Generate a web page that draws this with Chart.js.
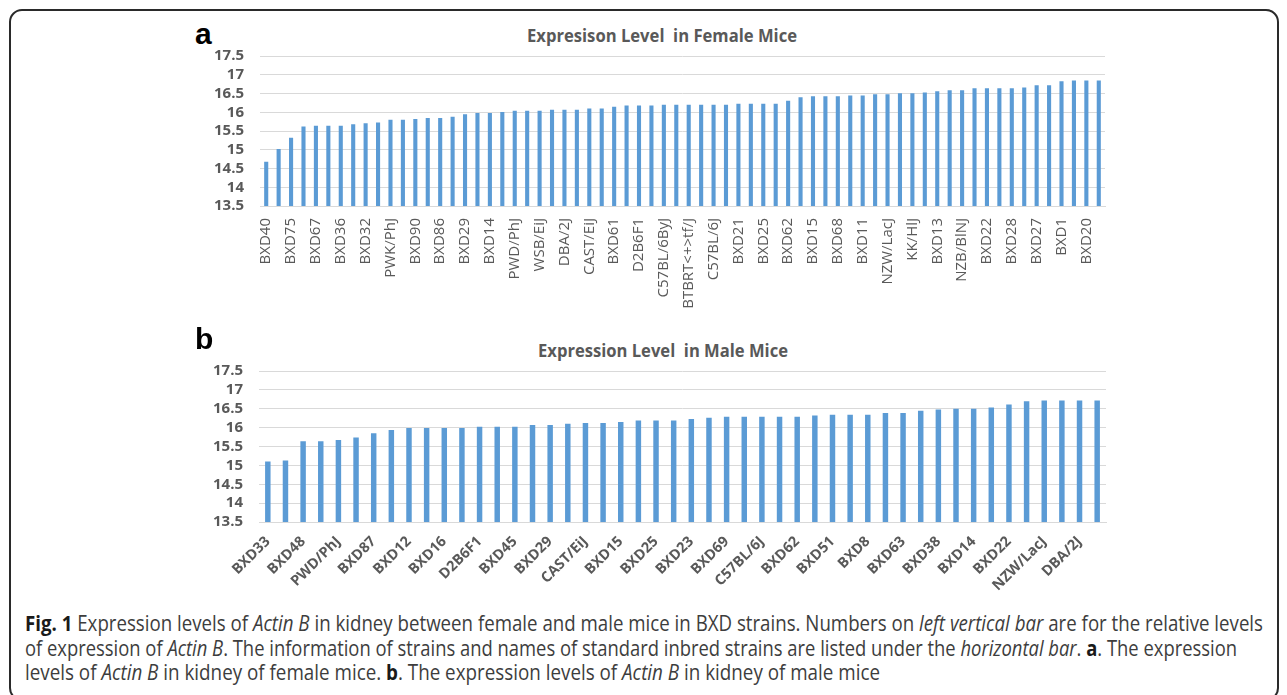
<!DOCTYPE html>
<html>
<head>
<meta charset="utf-8">
<script src="https://cdn.jsdelivr.net/npm/chart.js@4.4.1/dist/chart.umd.min.js"></script>
<style>
  html, body { margin: 0; padding: 0; background: #fff; }
  body { width: 1287px; height: 695px; position: relative; overflow: hidden; font-family: "Open Sans", sans-serif; }
  .frame { position: absolute; left: 9px; top: 9px; width: 1266px; height: 688px; border: 2px solid #2a2a2a; border-radius: 13px; }
  .letter { position: absolute; font: bold 30px "Liberation Sans", Arial, sans-serif; color: #000; line-height: 1; }
  .title { position: absolute; font-weight: bold; color: #595959; white-space: nowrap; line-height: 1; transform-origin: left top; }
  .plot { position: absolute; }
  .cap { position: absolute; left: 25px; font-size: 21px; color: #3d3d3d; white-space: nowrap; line-height: 1; transform-origin: left top; }
  .cap b { color: #1a1a1a; }
</style>
</head>
<body>
<div class="frame"></div>

<div class="letter" style="left:195px; top:19px;">a</div>
<div class="title fit" data-x="527" data-w="270" style="top:27px; font-size:17.5px;">Expresison Level&nbsp; in Female Mice</div>
<canvas class="plot" id="female" width="944" height="305" style="left:190px; top:20px;"></canvas>

<div class="letter" style="left:195px; top:324px;">b</div>
<div class="title fit" data-x="538" data-w="250" style="top:342px; font-size:17px;">Expression Level&nbsp; in Male Mice</div>
<canvas class="plot" id="male" width="944" height="270" style="left:190px; top:330px;"></canvas>

<div class="cap fit" data-x="25" data-w="1238" style="top:613px;"><b>Fig. 1</b> Expression levels of <i>Actin B</i> in kidney between female and male mice in BXD strains. Numbers on <i>left vertical bar</i> are for the relative levels</div>
<div class="cap fit" data-x="25" data-w="1212" style="top:638px;">of expression of <i>Actin B</i>. The information of strains and names of standard inbred strains are listed under the <i>horizontal bar</i>. <b>a</b>. The expression</div>
<div class="cap fit" data-x="25" data-w="855" style="top:662px;">levels of <i>Actin B</i> in kidney of female mice. <b>b</b>. The expression levels of <i>Actin B</i> in kidney of male mice</div>

<script>
// Strain names printed under each axis (every other bar carries a name)
const femaleStrains = ['BXD40', 'BXD75', 'BXD67', 'BXD36', 'BXD32', 'PWK/PhJ', 'BXD90', 'BXD86',
  'BXD29', 'BXD14', 'PWD/PhJ', 'WSB/EiJ', 'DBA/2J', 'CAST/EiJ', 'BXD61', 'D2B6F1', 'C57BL/6ByJ',
  'BTBRT<+>tf/J', 'C57BL/6J', 'BXD21', 'BXD25', 'BXD62', 'BXD15', 'BXD68', 'BXD11', 'NZW/LacJ',
  'KK/HlJ', 'BXD13', 'NZB/BlNJ', 'BXD22', 'BXD28', 'BXD27', 'BXD1', 'BXD20'];

const maleStrains = ['BXD33', 'BXD48', 'PWD/PhJ', 'BXD87', 'BXD12', 'BXD16', 'D2B6F1', 'BXD45',
  'BXD29', 'CAST/EiJ', 'BXD15', 'BXD25', 'BXD23', 'BXD69', 'C57BL/6J', 'BXD62', 'BXD51', 'BXD8',
  'BXD63', 'BXD38', 'BXD14', 'BXD22', 'NZW/LacJ', 'DBA/2J'];

// Relative Actin B expression in kidney, sorted ascending
const femaleLevels = [
  14.68, 15.02, 15.32, 15.62, 15.64, 15.64, 15.64, 15.68, 15.71, 15.73,
  15.80, 15.80, 15.82, 15.85, 15.85, 15.88, 15.95, 15.98, 15.98, 16.01,
  16.04, 16.04, 16.04, 16.07, 16.07, 16.07, 16.10, 16.10, 16.15, 16.18,
  16.18, 16.18, 16.20, 16.20, 16.20, 16.20, 16.20, 16.20, 16.23, 16.23,
  16.23, 16.23, 16.31, 16.40, 16.43, 16.43, 16.43, 16.45, 16.45, 16.48,
  16.48, 16.51, 16.51, 16.53, 16.56, 16.59, 16.59, 16.64, 16.64, 16.64,
  16.64, 16.66, 16.72, 16.72, 16.83, 16.85, 16.85, 16.85];

const maleLevels = [
  15.10, 15.13, 15.64, 15.64, 15.67, 15.74, 15.85, 15.94, 15.99, 15.99,
  15.99, 15.99, 16.02, 16.02, 16.02, 16.07, 16.07, 16.10, 16.12, 16.12,
  16.15, 16.19, 16.19, 16.19, 16.23, 16.26, 16.29, 16.29, 16.29, 16.29,
  16.29, 16.32, 16.34, 16.34, 16.34, 16.39, 16.39, 16.45, 16.48, 16.50,
  16.50, 16.53, 16.61, 16.70, 16.72, 16.72, 16.72, 16.72];

// Value axis
const yTicks = ['13.5', '14', '14.5', '15', '15.5', '16', '16.5', '17', '17.5'];
const yMin = 13.5, yMax = 17.5, yStep = 0.5;

// One category per bar; named strains sit on the odd-numbered bars
function categories(names, count) {
  return Array.from({ length: count }, (_, i) => (i % 2 === 0 ? names[i / 2] || '' : ''));
}

const BAR = '#5b9bd5';
const GRID = '#d9d9d9';
const TEXT = '#595959';

function makeChart(id, names, values, opt) {
  return new Chart(document.getElementById(id), {
    type: 'bar',
    data: {
      labels: categories(names, values.length),
      datasets: [{
        data: values,
        backgroundColor: BAR,
        borderWidth: 0,
        barPercentage: opt.bar,
        categoryPercentage: 1
      }]
    },
    options: {
      responsive: false,
      animation: false,
      devicePixelRatio: 1,
      layout: { padding: { top: opt.top, right: opt.right, left: 0, bottom: 0 } },
      plugins: { legend: { display: false }, tooltip: { enabled: false }, title: { display: false } },
      scales: {
        x: {
          grid: { display: false, drawTicks: false },
          border: { display: true, color: GRID, width: 1 },
          ticks: {
            autoSkip: false,
            minRotation: opt.rot,
            maxRotation: opt.rot,
            padding: opt.xPad,
            color: TEXT,
            font: { family: 'Open Sans', size: opt.xSize, weight: opt.xWeight }
          },
          afterFit(s) { s.height = opt.xHeight; }
        },
        y: {
          min: yMin,
          max: yMax,
          grid: { color: GRID, lineWidth: 1, drawTicks: false },
          border: { display: false },
          ticks: {
            autoSkip: false,
            stepSize: yStep,
            padding: 16,
            color: TEXT,
            font: { family: 'Open Sans', size: 15, weight: 'bold' },
            callback: (v) => yTicks[Math.round((v - yMin) / yStep)]
          },
          afterFit(s) { s.width = opt.yWidth; }
        }
      }
    }
  });
}

makeChart('female', femaleStrains, femaleLevels, {
  bar: 0.33, top: 36, right: 29, yWidth: 70, xHeight: 119,
  rot: 90, xPad: 12, xSize: 15, xWeight: 'normal'
});

makeChart('male', maleStrains, maleLevels, {
  bar: 0.31, top: 41, right: 28, yWidth: 69, xHeight: 78,
  rot: 45, xPad: 11, xSize: 14.5, xWeight: 'bold'
});

// Fit the HTML text lines to their column widths
document.querySelectorAll('.fit').forEach((el) => {
  const w = el.getBoundingClientRect().width;
  const target = parseFloat(el.dataset.w);
  el.style.left = el.dataset.x + 'px';
  el.style.transform = 'scaleX(' + (target / w) + ')';
});
</script>
</body>
</html>
